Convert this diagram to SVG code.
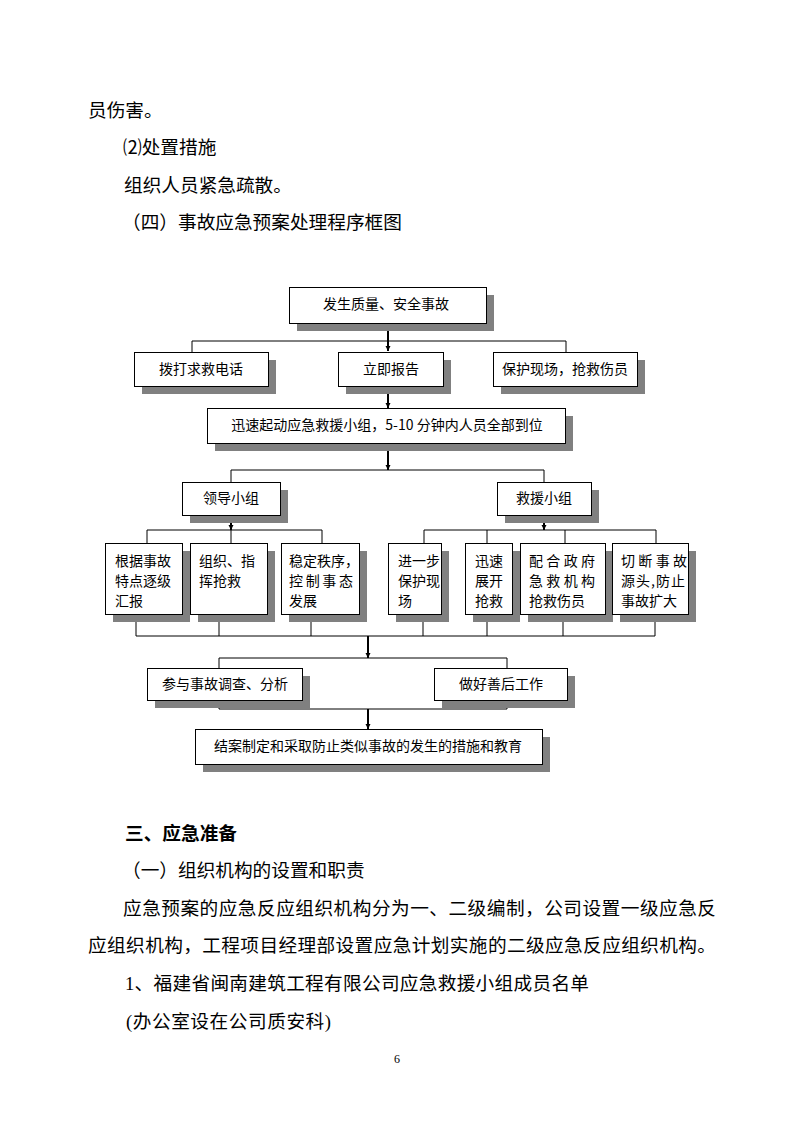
<svg xmlns="http://www.w3.org/2000/svg" width="794" height="1123" viewBox="0 0 794 1123">
<defs>
<style>
.body{font-family:"Liberation Serif","Noto Sans CJK SC",serif;font-size:18.67px;fill:#000}
.bold{font-weight:bold}
.lbl{font-family:"Noto Sans CJK SC","Liberation Sans",sans-serif;font-size:14px;fill:#000}
.c{text-anchor:middle}
.box{fill:#fff;stroke:#000;stroke-width:1}
.sh{fill:#808080}
.ln{fill:none;stroke:#000;stroke-width:1}
.ar{fill:none;stroke:#000;stroke-width:2;marker-end:url(#ah)}
</style>
<marker id="ah" markerUnits="userSpaceOnUse" markerWidth="6" markerHeight="6" viewBox="0 -3 5 6" refX="5" refY="0" orient="auto">
<path d="M0,-2.5 L5,0 L0,2.5 z" fill="#000"/>
</marker>
</defs>
<rect width="794" height="1123" fill="#fff"/>

<g id="page-text">
<text class="body" x="88" y="117">员伤害。</text>
<text class="body" x="123" y="154">⑵处置措施</text>
<text class="body" x="124" y="192">组织人员紧急疏散。</text>
<text class="body" x="122" y="229">（四）事故应急预案处理程序框图</text>
<text class="body bold" x="125" y="840">三、应急准备</text>
<text class="body" x="122" y="877">（一）组织机构的设置和职责</text>
<text class="body" x="123" y="915" textLength="593" lengthAdjust="spacing">应急预案的应急反应组织机构分为一、二级编制，公司设置一级应急反</text>
<text class="body" x="88" y="952" textLength="628" lengthAdjust="spacing">应组织机构，工程项目经理部设置应急计划实施的二级应急反应组织机构。</text>
<text class="body" x="125" y="990" textLength="464" lengthAdjust="spacing">1、福建省闽南建筑工程有限公司应急救援小组成员名单</text>
<text class="body" x="126" y="1028" textLength="205" lengthAdjust="spacing">(办公室设在公司质安科)</text>
<text x="397" y="1063" style="font-family:'Liberation Serif',serif;font-size:12px" text-anchor="middle">6</text>
</g>

<g id="connectors">
<path class="ar" d="M388,323 V351"/>
<path class="ln" d="M192,352 V341 H566 V352"/>
<path class="ar" d="M388,387 V408"/>
<path class="ar" d="M388,443 V470"/>
<path class="ln" d="M231,482 V470 H544 V482"/>
<path class="ar" d="M231,515 V530"/>
<path class="ar" d="M544,515 V530"/>
<path class="ln" d="M147,543 V530 H322 V543 M231,530 V543"/>
<path class="ln" d="M424,543 V530 H656 V543 M487,530 V543 M565,530 V543"/>
<path class="ln" d="M136,614 V636 H655 V614 M219,614 V636 M311,614 V636 M423,614 V636 M487,614 V636 M563,614 V636"/>
<path class="ar" d="M368,636 V658"/>
<path class="ln" d="M219,668 V658 H507 V668"/>
<path class="ln" d="M219,700 V709 H507 V700"/>
<path class="ar" d="M368,709 V729"/>
</g>

<g id="n-start">
<rect class="sh" x="297" y="295" width="197" height="36"/>
<rect class="box" x="289.5" y="287.5" width="197" height="36"/>
<text class="lbl c" x="386" y="309">发生质量、安全事故</text>
</g>
<g id="n-call">
<rect class="sh" x="142" y="360" width="134" height="34"/>
<rect class="box" x="134.5" y="352.5" width="134" height="34"/>
<text class="lbl c" x="201" y="374">拨打求救电话</text>
</g>
<g id="n-report">
<rect class="sh" x="346" y="360" width="105" height="34"/>
<rect class="box" x="338.5" y="352.5" width="105" height="34"/>
<text class="lbl c" x="391" y="374">立即报告</text>
</g>
<g id="n-protect">
<rect class="sh" x="501" y="360" width="144" height="34"/>
<rect class="box" x="493.5" y="352.5" width="144" height="34"/>
<text class="lbl c" x="565" y="374">保护现场，抢救伤员</text>
</g>
<g id="n-start-team">
<rect class="sh" x="215" y="416" width="358" height="35"/>
<rect class="box" x="207.5" y="408.5" width="358" height="35"/>
<text class="lbl c" x="387" y="430">迅速起动应急救援小组，5-10 分钟内人员全部到位</text>
</g>
<g id="n-lead">
<rect class="sh" x="190" y="490" width="98" height="33"/>
<rect class="box" x="182.5" y="482.5" width="98" height="33"/>
<text class="lbl c" x="231" y="503">领导小组</text>
</g>
<g id="n-rescue">
<rect class="sh" x="505" y="490" width="94" height="33"/>
<rect class="box" x="497.5" y="482.5" width="94" height="33"/>
<text class="lbl c" x="544" y="503">救援小组</text>
</g>
<g id="n-l1">
<rect class="sh" x="113" y="551" width="77" height="71"/>
<rect class="box" x="105.5" y="543.5" width="77" height="71"/>
<text class="lbl" x="115" y="566">根据事故</text>
<text class="lbl" x="115" y="586">特点逐级</text>
<text class="lbl" x="115" y="606">汇报</text>
</g>
<g id="n-l2">
<rect class="sh" x="198" y="551" width="77" height="71"/>
<rect class="box" x="190.5" y="543.5" width="77" height="71"/>
<text class="lbl" x="199" y="566">组织、指</text>
<text class="lbl" x="199" y="586">挥抢救</text>
</g>
<g id="n-l3">
<rect class="sh" x="289" y="551" width="78" height="71"/>
<rect class="box" x="281.5" y="543.5" width="78" height="71"/>
<text class="lbl" x="289" y="566">稳定秩序，</text>
<text class="lbl" x="289" y="586" textLength="64" lengthAdjust="spacing">控制事态</text>
<text class="lbl" x="289" y="606">发展</text>
</g>
<g id="n-r1">
<rect class="sh" x="396" y="551" width="53" height="71"/>
<rect class="box" x="388.5" y="543.5" width="53" height="71"/>
<text class="lbl" x="398" y="566">进一步</text>
<text class="lbl" x="398" y="586">保护现</text>
<text class="lbl" x="398" y="606">场</text>
</g>
<g id="n-r2">
<rect class="sh" x="473" y="551" width="47" height="71"/>
<rect class="box" x="465.5" y="543.5" width="47" height="71"/>
<text class="lbl" x="475" y="566">迅速</text>
<text class="lbl" x="475" y="586">展开</text>
<text class="lbl" x="475" y="606">抢救</text>
</g>
<g id="n-r3">
<rect class="sh" x="528" y="551" width="85" height="71"/>
<rect class="box" x="520.5" y="543.5" width="85" height="71"/>
<text class="lbl" x="529" y="566" textLength="66" lengthAdjust="spacing">配合政府</text>
<text class="lbl" x="529" y="586" textLength="66" lengthAdjust="spacing">急救机构</text>
<text class="lbl" x="529" y="606">抢救伤员</text>
</g>
<g id="n-r4">
<rect class="sh" x="620" y="551" width="76" height="71"/>
<rect class="box" x="612.5" y="543.5" width="76" height="71"/>
<text class="lbl" x="621" y="566" textLength="66" lengthAdjust="spacing">切断事故</text>
<text class="lbl" x="621" y="586" textLength="64" lengthAdjust="spacing">源头,防止</text>
<text class="lbl" x="621" y="606">事故扩大</text>
</g>
<g id="n-investigate">
<rect class="sh" x="155" y="676" width="155" height="32"/>
<rect class="box" x="147.5" y="668.5" width="155" height="32"/>
<text class="lbl c" x="225" y="689">参与事故调查、分析</text>
</g>
<g id="n-aftermath">
<rect class="sh" x="442" y="676" width="133" height="32"/>
<rect class="box" x="434.5" y="668.5" width="133" height="32"/>
<text class="lbl c" x="501" y="689">做好善后工作</text>
</g>
<g id="n-close">
<rect class="sh" x="203" y="737" width="347" height="35"/>
<rect class="box" x="195.5" y="729.5" width="347" height="35"/>
<text class="lbl c" x="368" y="751">结案制定和采取防止类似事故的发生的措施和教育</text>
</g>
</svg>
